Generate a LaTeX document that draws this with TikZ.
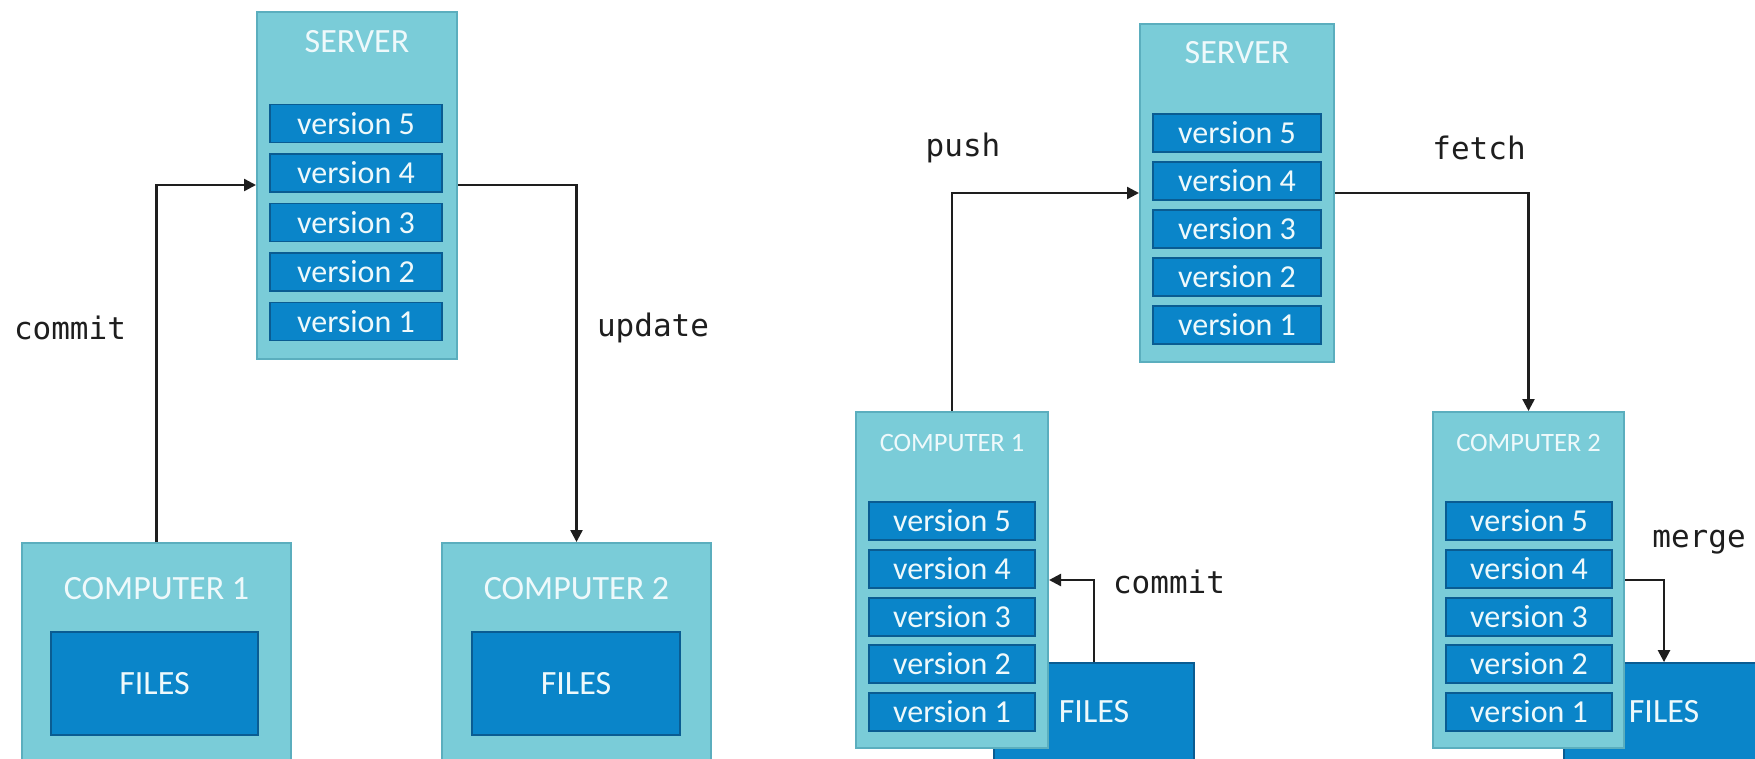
\documentclass[tikz,border=0pt]{standalone}
\usepackage{fontspec}
\newfontfamily\boxfont{Carlito}
\newfontfamily\lblfont{DejaVu Sans Mono}
\usetikzlibrary{arrows.meta}
\definecolor{tealfill}{HTML}{7ACCD8}
\definecolor{tealedge}{HTML}{5BAEBE}
\definecolor{verfill}{HTML}{0A85C9}
\definecolor{veredge}{HTML}{0A5C92}
\definecolor{boxtext}{HTML}{EEF9FB}
\definecolor{ink}{HTML}{1E1E1E}
\tikzset{
  outerbox/.style={rectangle, draw=tealedge, line width=2pt, fill=tealfill, inner sep=0pt},
  verbox/.style={rectangle, draw=veredge, line width=1.8pt, fill=verfill, inner sep=0pt,
    text=boxtext, minimum height=38pt, font=\boxfont\fontsize{32}{32}\selectfont},
  filesbox/.style={rectangle, draw=veredge, line width=1.8pt, fill=verfill, inner sep=0pt,
    text=boxtext, font=\boxfont\fontsize{34}{34}\selectfont},
  bigtitle/.style={inner sep=0pt, text=boxtext, font=\boxfont\fontsize{34}{34}\selectfont},
  smalltitle/.style={inner sep=0pt, text=boxtext, font=\boxfont\fontsize{26.5}{26.5}\selectfont},
  lbl/.style={inner sep=0pt, text=ink, font=\lblfont\fontsize{31}{31}\selectfont},
  conn/.style={draw=ink, line width=2.4pt},
  arr/.style={conn, -{Triangle[length=12pt,width=12pt]}}
}
\begin{document}
\begin{tikzpicture}[x=1pt,y=-1pt]
\path[use as bounding box] (0,0) rectangle (1755,758);
\clip (0,0) rectangle (1755,758);
\fill[white] (0,0) rectangle (1755,758);

% ---------- left panel ----------
\node[outerbox, minimum width=200pt, minimum height=347pt] (srvL) at (357,185.5) {};
\node[bigtitle] (srvLt) at (357,42) {SERVER};
\foreach \i/\y in {5/123.5,4/173,3/222.5,2/272,1/321.5}
  \node[verbox, minimum width=172pt] (vL\i) at (356,\y) {version \i};

\node[outerbox, minimum width=269pt, minimum height=247pt] (comL1) at (156.5,666.5) {};
\node[bigtitle] (comL1t) at (156.5,589) {COMPUTER 1};
\node[filesbox, minimum width=207pt, minimum height=103pt] (filesL1) at (154.5,683.5) {FILES};

\node[outerbox, minimum width=269pt, minimum height=247pt] (comL2) at (576.5,666.5) {};
\node[bigtitle] (comL2t) at (576.5,589) {COMPUTER 2};
\node[filesbox, minimum width=208pt, minimum height=103pt] (filesL2) at (576,683.5) {FILES};

\draw[arr] (comL1.north) |- (srvL.west |- 0,185);
\draw[arr] (srvL.east |- 0,185) -| (comL2.north);
\node[lbl] (lcommit) at (70,328) {commit};
\node[lbl] (lupdate) at (653,328) {update};

% ---------- right panel ----------
\node[outerbox, minimum width=194pt, minimum height=338pt] (srvR) at (1237,193) {};
\node[bigtitle] (srvRt) at (1237,53) {SERVER};
\foreach \i/\y in {5/133,4/181,3/229,2/277,1/325}
  \node[verbox, minimum width=168pt] (vR\i) at (1237,\y) {version \i};

\node[filesbox, minimum width=200pt, minimum height=98pt] (filesR1) at (1094,712) {\hspace*{0pt}FILES};
\node[filesbox, minimum width=200pt, minimum height=98pt] (filesR2) at (1664,712) {FILES};

\node[outerbox, minimum width=192pt, minimum height=336pt] (comR1) at (952,580) {};
\node[smalltitle] (comR1t) at (952,443) {COMPUTER 1};
\foreach \i/\y in {5/521,4/569,3/617,2/664,1/712}
  \node[verbox, minimum width=166pt] (vA\i) at (952,\y) {version \i};

\node[outerbox, minimum width=191pt, minimum height=336pt] (comR2) at (1528.5,580) {};
\node[smalltitle] (comR2t) at (1528.5,443) {COMPUTER 2};
\foreach \i/\y in {5/521,4/569,3/617,2/664,1/712}
  \node[verbox, minimum width=166pt] (vB\i) at (1529,\y) {version \i};

\draw[arr] (comR1.north) |- (srvR.west);
\draw[arr] (srvR.east) -| (comR2.north);
\draw[arr] (filesR1.north) |- (comR1.east);
\draw[arr] (comR2.east) -| (filesR2.north);

\node[lbl] (lpush) at (963,148) {push};
\node[lbl] (lfetch) at (1479,148) {fetch};
\node[lbl] (lcommit2) at (1169,582) {commit};
\node[lbl] (lmerge) at (1699,542) {merge};
\end{tikzpicture}
\end{document}
